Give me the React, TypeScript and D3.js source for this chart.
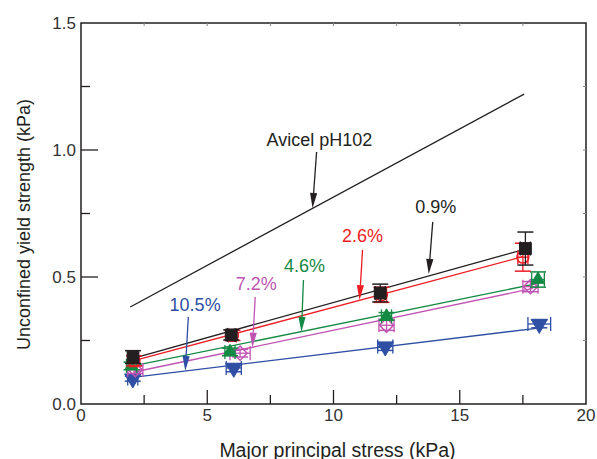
import React from "react";
import * as d3 from "d3";

// series: moisture / additive level
const seriesNames = ["0.9%", "2.6%", "4.6%", "7.2%", "10.5%"];
const seriesColors = ["#231f20", "#ed1c24", "#138a43", "#c154b3", "#2e4fa3"];
const seriesShapes = ["square", "circle", "triangleUp", "diamond", "triangleDown"];

// major principal stress (kPa) per series
const stressX = [
  [2.06, 5.95, 11.85, 17.6],
  [2.1, 6.0, 11.9, 17.5],
  [2.0, 5.9, 12.1, 18.1],
  [2.15, 6.3, 12.1, 17.8],
  [2.05, 6.05, 12.05, 18.15],
];
// unconfined yield strength (kPa)
const strengthY = [
  [0.185, 0.272, 0.437, 0.612],
  [0.17, 0.27, 0.43, 0.578],
  [0.15, 0.205, 0.345, 0.49],
  [0.135, 0.2, 0.31, 0.462],
  [0.1, 0.142, 0.226, 0.315],
];
const strengthErr = [
  [0.025, 0.02, 0.035, 0.065],
  [0.02, 0.02, 0.03, 0.055],
  [0.015, 0.015, 0.015, 0.03],
  [0.015, 0.015, 0.02, 0.02],
  [0.01, 0.015, 0.015, 0.015],
];
const stressErr = [
  [0.15, 0.15, 0.2, 0.2],
  [0.15, 0.15, 0.2, 0.2],
  [0.2, 0.2, 0.2, 0.25],
  [0.3, 0.4, 0.3, 0.3],
  [0.2, 0.3, 0.3, 0.45],
];

// linear fits (start / end)
const fitX0 = [2.06, 2.06, 2.06, 2.06, 2.06];
const fitY0 = [0.18, 0.17, 0.15, 0.125, 0.105];
const fitX1 = [17.6, 17.5, 18.1, 17.9, 18.2];
const fitY1 = [0.61, 0.58, 0.475, 0.455, 0.3];

// Avicel pH102 reference line
const avicelX = [1.95, 17.55];
const avicelY = [0.382, 1.22];

// annotations: label, label position, arrow tail, arrow tip (data units)
const annoText = ["Avicel pH102", "0.9%", "2.6%", "4.6%", "7.2%", "10.5%"];
const annoColor = ["#231f20", "#231f20", "#ed1c24", "#138a43", "#c154b3", "#2e4fa3"];
const annoX = [9.44, 14.05, 11.15, 8.85, 6.94, 4.52];
const annoY = [1.039, 0.776, 0.661, 0.543, 0.472, 0.39];
const tailX = [9.33, 13.93, 11.15, 8.81, 6.9, 4.25];
const tailY = [0.992, 0.717, 0.606, 0.488, 0.421, 0.343];
const tipX = [9.17, 13.77, 11.03, 8.73, 6.79, 4.13];
const tipY = [0.772, 0.512, 0.409, 0.284, 0.222, 0.13];

const xTicks = [0, 5, 10, 15, 20];
const yTicks = [0, 0.5, 1.0, 1.5];

const W = 597;
const H = 459;
const m = { left: 81, right: 11, top: 23, bottom: 55 };

const font = "'Liberation Sans', Arial, Helvetica, sans-serif";

const x = d3.scaleLinear().domain([0, 20]).range([m.left, W - m.right]);
const y = d3.scaleLinear().domain([0, 1.5]).range([H - m.bottom, m.top]);

function markerPath(shape: string) {
  if (shape === "square") return d3.symbol(d3.symbolSquare, 140)();
  if (shape === "circle") return d3.symbol(d3.symbolCircle, 110)();
  if (shape === "diamond") return d3.symbol(d3.symbolSquare, 100)();
  if (shape === "triangleUp") return d3.symbol(d3.symbolTriangle, 75)();
  return d3.symbol(d3.symbolTriangle, 115)();
}

function markerRotate(shape: string) {
  if (shape === "diamond") return 45;
  if (shape === "triangleDown") return 180;
  return 0;
}

function Arrow({ i }: { i: number }) {
  const x0 = x(tailX[i]);
  const y0 = y(tailY[i]);
  const x1 = x(tipX[i]);
  const y1 = y(tipY[i]);
  const ang = Math.atan2(y1 - y0, x1 - x0);
  const len = 15;
  const half = 3.6;
  const bx = x1 - len * Math.cos(ang);
  const by = y1 - len * Math.sin(ang);
  const px = -Math.sin(ang) * half;
  const py = Math.cos(ang) * half;
  return (
    <g>
      <line x1={x0} y1={y0} x2={bx} y2={by} stroke={annoColor[i]} strokeWidth={1.3} />
      <path
        d={`M${x1},${y1}L${bx + px},${by + py}L${bx - px},${by - py}Z`}
        fill={annoColor[i]}
      />
    </g>
  );
}

export default function App() {
  const [x0, x1] = x.range();
  const [yb, yt] = y.range();
  const minorX = d3.range(2.5, 20, 2.5);
  const minorY = d3.range(0.25, 1.5, 0.25);
  const line = d3
    .line<[number, number]>()
    .x((d) => x(d[0]))
    .y((d) => y(d[1]));

  const order = [4, 3, 2, 1, 0];

  return (
    <svg
      width={W}
      height={H}
      style={{ position: "absolute", left: 0, top: 0, background: "#fff" }}
      fontFamily={font}
    >
      {/* frame */}
      <rect x={x0} y={yt} width={x1 - x0} height={yb - yt} fill="none" stroke="#231f20" strokeWidth={1.5} />

      {/* ticks */}
      {minorX.map((v) => {
        const major = v % 5 === 0;
        return (
          <g key={"xt" + v}>
            <line x1={x(v)} x2={x(v)} y1={yb} y2={yb - (major ? 14 : 9)} stroke="#231f20" strokeWidth={1.3} />
            <line x1={x(v)} x2={x(v)} y1={yt} y2={yt + 3} stroke="#888" strokeWidth={1} />
          </g>
        );
      })}
      {minorY.map((v) => {
        const major = Math.abs(v % 0.5) < 1e-6;
        return (
          <g key={"yt" + v}>
            <line x1={x0} x2={x0 + (major ? 17 : 9)} y1={y(v)} y2={y(v)} stroke="#231f20" strokeWidth={1.3} />
            <line x1={x1} x2={x1 - 3} y1={y(v)} y2={y(v)} stroke="#888" strokeWidth={1} />
          </g>
        );
      })}

      {/* tick labels */}
      {xTicks.map((v) => (
        <text key={"xl" + v} x={x(v)} y={yb + 17} textAnchor="middle" fontSize={17} fill="#333">
          {v}
        </text>
      ))}
      {yTicks.map((v) => (
        <text key={"yl" + v} x={x0 - 5} y={y(v) + 6} textAnchor="end" fontSize={17} fill="#333">
          {v.toFixed(1)}
        </text>
      ))}

      {/* axis titles */}
      <text x={(x0 + x1) / 2 + 4} y={457} textAnchor="middle" fontSize={19.5} fill="#231f20">
        Major principal stress (kPa)
      </text>
      <text
        transform={`translate(30,${(yb + yt) / 2 + 11}) rotate(-90)`}
        textAnchor="middle"
        fontSize={18}
        fill="#231f20"
      >
        Unconfined yield strength (kPa)
      </text>

      {/* Avicel reference line */}
      <path
        d={line(avicelX.map((v, i) => [v, avicelY[i]]) as [number, number][]) || ""}
        fill="none"
        stroke="#231f20"
        strokeWidth={1.3}
      />

      {/* fits */}
      {order.map((s) => (
        <line
          key={"fit" + s}
          x1={x(fitX0[s])}
          y1={y(fitY0[s])}
          x2={x(fitX1[s])}
          y2={y(fitY1[s])}
          stroke={seriesColors[s]}
          strokeWidth={1.3}
        />
      ))}

      {/* error bars + markers */}
      {order.map((s) => (
        <g key={"s" + s} stroke={seriesColors[s]}>
          {stressX[s].map((v, i) => {
            const cx = x(v);
            const cy = y(strengthY[s][i]);
            const eTop = y(strengthY[s][i] + strengthErr[s][i]);
            const eBot = y(strengthY[s][i] - strengthErr[s][i]);
            const eL = x(v - stressErr[s][i]);
            const eR = x(v + stressErr[s][i]);
            const shape = seriesShapes[s];
            const open = shape === "circle" || shape === "diamond";
            return (
              <g key={i}>
                <line x1={cx} x2={cx} y1={eTop} y2={eBot} strokeWidth={1.3} />
                <line x1={cx - 8} x2={cx + 8} y1={eTop} y2={eTop} strokeWidth={1.5} />
                <line x1={cx - 8} x2={cx + 8} y1={eBot} y2={eBot} strokeWidth={1.5} />
                <line x1={eL} x2={eR} y1={cy} y2={cy} strokeWidth={1.3} />
                <line x1={eL} x2={eL} y1={cy - 7} y2={cy + 7} strokeWidth={1.3} />
                <line x1={eR} x2={eR} y1={cy - 7} y2={cy + 7} strokeWidth={1.3} />
                <path
                  d={markerPath(shape) || ""}
                  transform={`translate(${cx},${cy}) rotate(${markerRotate(shape)})`}
                  fill={open ? "none" : seriesColors[s]}
                  strokeWidth={open ? 1.5 : 1}
                />
              </g>
            );
          })}
        </g>
      ))}

      {/* annotations */}
      {annoText.map((t, i) => (
        <g key={"a" + i}>
          <text x={x(annoX[i])} y={y(annoY[i]) + 6} textAnchor="middle" fontSize={18} fill={annoColor[i]}>
            {t}
          </text>
          <Arrow i={i} />
        </g>
      ))}
    </svg>
  );
}
